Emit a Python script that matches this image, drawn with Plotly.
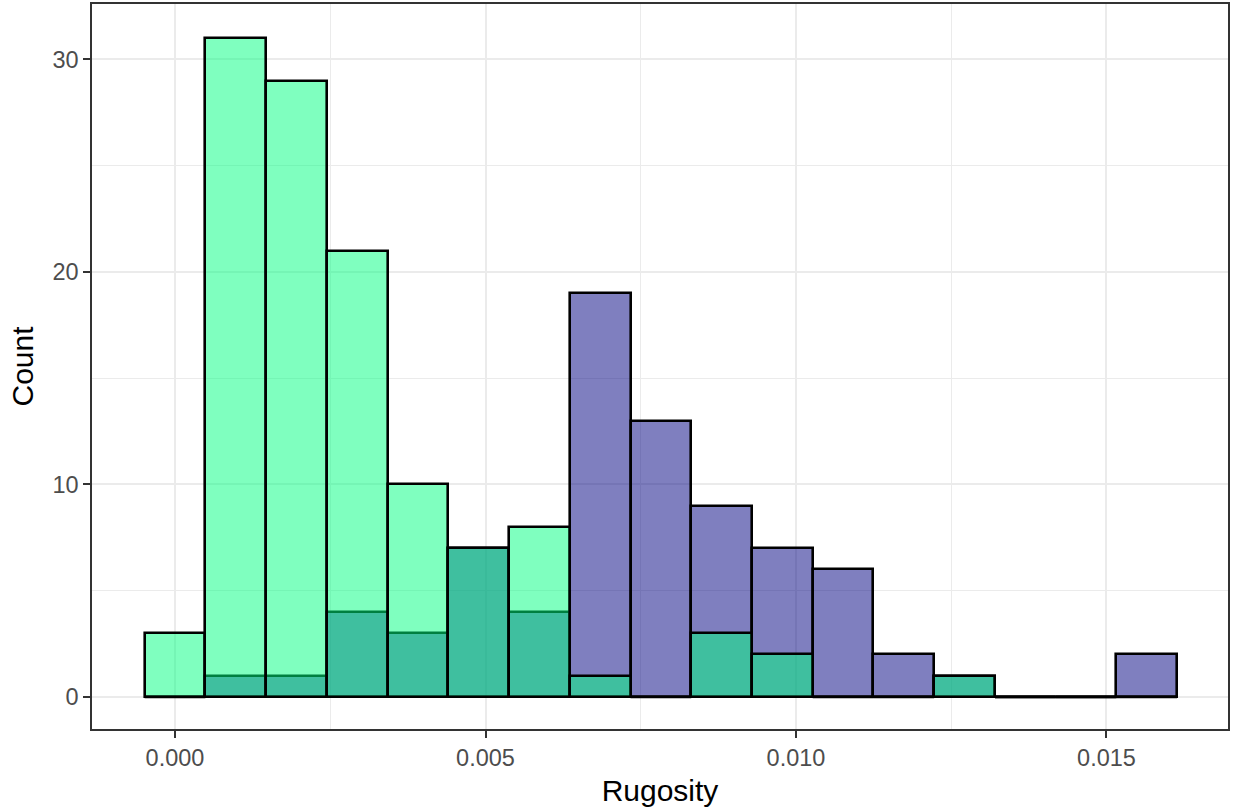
import plotly.graph_objects as go

bin_width = 0.000978
bin_index = list(range(17))
green_counts = [3, 31, 29, 21, 10, 7, 8, 1, 0, 3, 2, 0, 0, 1, 0, 0, 0]
purple_counts = [0, 1, 1, 4, 3, 7, 4, 19, 13, 9, 7, 6, 2, 1, 0, 0, 2]
x_tickvals = [0, 0.005, 0.01, 0.015]
x_ticktext = ["0.000", "0.005", "0.010", "0.015"]
y_tickvals = [0, 10, 20, 30]

centers = [i * bin_width for i in bin_index]

def zero_segments(counts):
    xs, ys = [], []
    for c, k in zip(centers, counts):
        if k == 0:
            xs += [c - bin_width / 2, c + bin_width / 2, None]
            ys += [0, 0, None]
    return xs, ys

FONT = "Liberation Sans, Arial, sans-serif"
fig = go.Figure()
for counts, fill in [(purple_counts, "rgba(0,0,128,0.5)"), (green_counts, "rgba(0,255,127,0.5)")]:
    fig.add_trace(go.Bar(x=centers, y=counts, width=bin_width,
                         marker=dict(color=fill, line=dict(color="black", width=2.6)),
                         showlegend=False))
    zx, zy = zero_segments(counts)
    fig.add_trace(go.Scatter(x=zx, y=zy, mode="lines", line=dict(color="black", width=2.6),
                             showlegend=False, hoverinfo="skip"))

def axis(**kw):
    d = dict(showline=True, linecolor="#333333", linewidth=1.5, mirror=True,
             ticks="outside", ticklen=7, tickcolor="#333333", tickwidth=1.5,
             showgrid=True, gridcolor="#EBEBEB", gridwidth=2, zeroline=False,
             automargin=False,
             tickfont=dict(family=FONT, size=23.5, color="#4D4D4D"))
    d.update(kw)
    return d

fig.update_layout(
    width=1233, height=812,
    margin=dict(l=92, r=5, t=4, b=83),
    font=dict(family=FONT, size=23, color="#4D4D4D"),
    plot_bgcolor="white", paper_bgcolor="white",
    barmode="overlay", bargap=0,
    xaxis=axis(range=[-0.001337, 0.016957], tickmode="array",
               tickvals=x_tickvals, ticktext=x_ticktext,
               minor=dict(tickvals=[0.0025, 0.0075, 0.0125], showgrid=True,
                          gridcolor="#EBEBEB", gridwidth=1, ticks=""),
               title=dict(text="Rugosity", standoff=10,
                          font=dict(family=FONT, size=30, color="black"))),
    yaxis=axis(range=[-1.506, 32.61], tickmode="array", tickvals=y_tickvals,
               minor=dict(tickvals=[5, 15, 25], showgrid=True,
                          gridcolor="#EBEBEB", gridwidth=1, ticks=""),
               title=dict(text="Count", standoff=10,
                          font=dict(family=FONT, size=30, color="black"))),
)

fig.write_html("out.html", config={"displayModeBar": False},
               post_script="document.body.style.margin='0px';")
